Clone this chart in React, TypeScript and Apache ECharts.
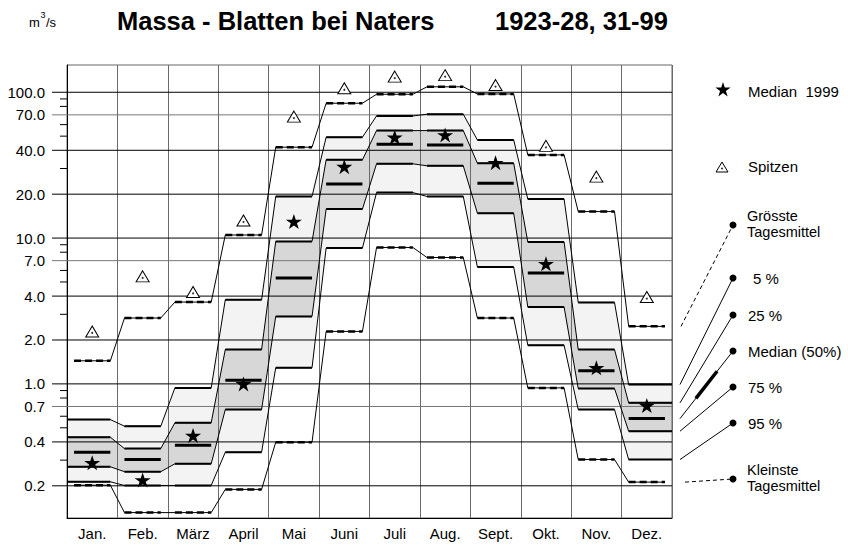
import React, { useEffect, useRef } from "react";
import * as echarts from "echarts";

const months = ["Jan.", "Feb.", "März", "April", "Mai", "Juni", "Juli", "Aug.", "Sept.", "Okt.", "Nov.", "Dez."];
const maxDaily = [1.44, 2.83, 3.64, 10.5, 42.0, 84.1, 96.9, 109, 97.3, 37.2, 15.2, 2.48];
const peaks = [2.29, 5.46, 4.27, 13.2, 68.1, 106.5, 128, 131, 112, 42.9, 26.4, 3.94];
const p5 = [0.569, 0.513, 0.939, 3.78, 19.3, 49.2, 68.8, 70.7, 47.1, 18.5, 3.62, 0.989];
const p25 = [0.431, 0.36, 0.541, 1.72, 9.48, 34.4, 54.6, 54.6, 32.6, 9.39, 1.72, 0.741];
const p50 = [0.34, 0.303, 0.38, 1.06, 5.32, 23.5, 44.0, 43.4, 23.8, 5.76, 1.23, 0.578];
const p75 = [0.27, 0.25, 0.283, 0.667, 2.9, 15.8, 32.3, 31.3, 14.8, 3.37, 0.929, 0.474];
const p95 = [0.213, 0.201, 0.201, 0.34, 1.29, 8.54, 20.5, 19.3, 6.33, 1.84, 0.667, 0.303];
const minDaily = [0.202, 0.131, 0.131, 0.189, 0.398, 2.29, 8.62, 7.36, 2.83, 0.939, 0.303, 0.212];
const median1999 = [0.288, 0.219, 0.442, 1.0, 13.0, 30.9, 49.2, 51.0, 32.9, 6.67, 1.29, 0.71];
const yTicks = [0.2, 0.4, 0.7, 1, 2, 4, 7, 10, 20, 40, 70, 100];
const yTickLabels = ["0.2", "0.4", "0.7", "1.0", "2.0", "4.0", "7.0", "10.0", "20.0", "40.0", "70.0", "100.0"];
const yMinorTicks = [0.3, 0.5, 0.6, 0.8, 0.9, 3, 5, 6, 8, 9, 30, 50, 60, 80, 90];

const FONT = "'Liberation Sans', Arial, Helvetica, sans-serif";
const HALF = 0.36;
const STAR =
  "path://M50 0 L61.23 34.55 L97.55 34.55 L68.17 55.9 L79.39 90.45 L50 69.1 L20.61 90.45 L31.83 55.9 L2.45 34.55 L38.77 34.55 Z";

function stepXY(vals: number[], extend: boolean): number[][] {
  const pts: number[][] = [];
  vals.forEach((v, i) => {
    const l = extend && i === 0 ? 0 : i + 0.5 - HALF;
    const r = extend && i === vals.length - 1 ? 12 : i + 0.5 + HALF;
    pts.push([l, v], [r, v]);
  });
  return pts;
}

function starPoints(cx: number, cy: number, R: number): number[][] {
  const pts: number[][] = [];
  for (let k = 0; k < 10; k++) {
    const a = (-90 + k * 36) * (Math.PI / 180);
    const r = k % 2 === 0 ? R : R * 0.382;
    pts.push([cx + r * Math.cos(a), cy + r * Math.sin(a)]);
  }
  return pts;
}

function stepLineSeries(vals: number[], extend: boolean, width: number, dashed: boolean, connectors: boolean) {
  return {
    type: "custom",
    xAxisIndex: 0,
    yAxisIndex: 0,
    z: 5,
    silent: true,
    data: [[0, vals[0]]],
    renderItem: (_p: any, api: any) => {
      const pts = stepXY(vals, extend).map((p) => api.coord(p));
      const children: any[] = [];
      if (connectors) {
        children.push({
          type: "polyline",
          shape: { points: pts },
          style: { stroke: "#000", lineWidth: 1, fill: "none" },
        });
      }
      for (let i = 0; i < vals.length; i++) {
        const a = pts[2 * i];
        const b = pts[2 * i + 1];
        children.push({
          type: "line",
          shape: { x1: a[0], y1: a[1], x2: b[0], y2: b[1] },
          style: { stroke: "#000", lineWidth: width, lineDash: dashed ? [7, 4] : null, fill: "none" },
        });
      }
      return { type: "group", children };
    },
  };
}

function bandSeries(upper: number[], lower: number[], color: string) {
  return {
    type: "custom",
    xAxisIndex: 0,
    yAxisIndex: 0,
    z: 1,
    silent: true,
    data: [[0, upper[0]]],
    renderItem: (_p: any, api: any) => {
      const up = stepXY(upper, true).map((p) => api.coord(p));
      const lo = stepXY(lower, true).map((p) => api.coord(p)).reverse();
      return { type: "polygon", shape: { points: up.concat(lo) }, style: { fill: color, stroke: "none" } };
    },
  };
}

const legendTargets = [
  { vals: maxDaily, dot: [733, 225], dash: true, dx: 9, thickMid: false },
  { vals: p5, dot: [733, 278], dash: false, dx: 8, thickMid: false },
  { vals: p25, dot: [733, 315], dash: false, dx: 8, thickMid: false },
  { vals: p50, dot: [733, 351], dash: false, dx: 8, thickMid: true },
  { vals: p75, dot: [733, 387], dash: false, dx: 8, thickMid: false },
  { vals: p95, dot: [733, 423], dash: false, dx: 8, thickMid: false },
  { vals: minDaily, dot: [733, 479], dash: true, dx: 13, thickMid: false },
];

function legendText(x: number, y: number, text: string, size = 15) {
  return { type: "text", x, y, z: 10, style: { text, fontSize: size, fontFamily: FONT, fill: "#000", verticalAlign: "middle" } };
}

export default function App() {
  const ref = useRef<HTMLDivElement>(null);
  useEffect(() => {
    if (!ref.current) return;
    const chart = echarts.init(ref.current, undefined, { renderer: "svg" });
    const option: any = {
      animation: false,
      textStyle: { fontFamily: FONT },
      grid: {
        left: 67,
        top: 65,
        right: 176,
        bottom: 31,
        show: true,
        z: 3,
        borderColor: "#666",
        borderWidth: 1,
        backgroundColor: "transparent",
      },
      xAxis: [
        { type: "value", min: 0, max: 12, show: false, position: "top" },
        {
          type: "category",
          data: months,
          position: "bottom",
          boundaryGap: true,
          z: 3,
          axisLine: { show: true, lineStyle: { color: "#000", width: 1 } },
          axisTick: { show: false },
          axisLabel: { color: "#000", fontSize: 15, margin: 8, fontFamily: FONT },
          splitLine: { show: true, lineStyle: { color: "#6a6a6a", width: 1 } },
        },
      ],
      yAxis: {
        type: "log",
        logBase: 10,
        min: 0.1203,
        max: 153.8,
        z: 3,
        axisLine: { show: true, lineStyle: { color: "#000", width: 1 } },
        axisTick: { show: false },
        axisLabel: { show: false },
        splitLine: { show: false },
      },
      series: [
        bandSeries(p5, p95, "#f3f3f3"),
        bandSeries(p25, p75, "#d7d7d7"),
        {
          type: "custom",
          xAxisIndex: 0,
          yAxisIndex: 0,
          z: 4,
          silent: true,
          data: yTicks.map((v) => [0, v]),
          renderItem: (params: any, api: any) => {
            const v = api.value(1);
            const p0 = api.coord([0, v]);
            const p1 = api.coord([12, v]);
            const lab = yTickLabels[params.dataIndex];
            const gray = lab.charAt(0) === "7" || lab.startsWith("0.7");
            return {
              type: "group",
              children: [
                {
                  type: "line",
                  shape: { x1: p0[0] - 15, y1: p0[1], x2: p1[0], y2: p1[1] },
                  style: { stroke: gray ? "#777" : "#000", lineWidth: 1 },
                },
                {
                  type: "text",
                  x: p0[0] - 22,
                  y: p0[1],
                  style: {
                    text: lab,
                    align: "right",
                    verticalAlign: "middle",
                    fontSize: 15,
                    fontFamily: FONT,
                    fill: "#000",
                  },
                },
              ],
            };
          },
        },
        {
          type: "custom",
          xAxisIndex: 0,
          yAxisIndex: 0,
          z: 4,
          silent: true,
          data: yMinorTicks.map((v) => [0, v]),
          renderItem: (_params: any, api: any) => {
            const p0 = api.coord([0, api.value(1)]);
            return {
              type: "line",
              shape: { x1: p0[0] - 7, y1: p0[1], x2: p0[0], y2: p0[1] },
              style: { stroke: "#000", lineWidth: 1 },
            };
          },
        },
        stepLineSeries(maxDaily, false, 2.5, true, true),
        stepLineSeries(minDaily, false, 2.5, true, true),
        stepLineSeries(p5, true, 2, false, true),
        stepLineSeries(p25, true, 2, false, true),
        stepLineSeries(p75, true, 2, false, true),
        stepLineSeries(p95, true, 2, false, true),
        stepLineSeries(p50, false, 3, false, false),
        {
          type: "custom",
          xAxisIndex: 0,
          yAxisIndex: 0,
          z: 5,
          silent: true,
          data: [[0, 1]],
          renderItem: (_p: any, api: any) => {
            const children: any[] = [];
            legendTargets.forEach((t) => {
              const e = api.coord([12, t.vals[t.vals.length - 1]]);
              const x1 = e[0] + t.dx;
              const y1 = e[1];
              const [x2, y2] = t.dot;
              children.push({
                type: "line",
                shape: { x1, y1, x2, y2 },
                style: { stroke: "#000", lineWidth: 1, lineDash: t.dash ? [4, 3] : null },
              });
              if (t.thickMid) {
                children.push({
                  type: "line",
                  shape: {
                    x1: x1 + (x2 - x1) * 0.3,
                    y1: y1 + (y2 - y1) * 0.3,
                    x2: x1 + (x2 - x1) * 0.7,
                    y2: y1 + (y2 - y1) * 0.7,
                  },
                  style: { stroke: "#000", lineWidth: 3.5 },
                });
              }
              children.push({
                type: "circle",
                shape: { cx: x2, cy: y2, r: 3.5 },
                style: { fill: "#000", stroke: "none" },
              });
            });
            return { type: "group", children };
          },
        },
        {
          type: "scatter",
          xAxisIndex: 0,
          yAxisIndex: 0,
          z: 6,
          silent: true,
          symbol: "triangle",
          symbolSize: [13, 11],
          itemStyle: { color: "#fff", borderColor: "#000", borderWidth: 1, opacity: 1 },
          data: peaks.map((v, i) => [i + 0.5, v]),
        },
        {
          type: "scatter",
          xAxisIndex: 0,
          yAxisIndex: 0,
          z: 7,
          silent: true,
          symbol: "circle",
          symbolSize: 2,
          itemStyle: { color: "#000" },
          data: peaks.map((v, i) => [i + 0.5, v]),
          symbolOffset: [0, 1.5],
        },
        {
          type: "scatter",
          xAxisIndex: 0,
          yAxisIndex: 0,
          z: 7,
          silent: true,
          symbol: STAR,
          symbolSize: [16, 15],
          itemStyle: { color: "#000", opacity: 1 },
          data: median1999.map((v, i) => [i + 0.5, v]),
        },
      ],
      graphic: [
        { type: "text", x: 29, y: 22, style: { text: "m", fontSize: 13, fontFamily: FONT, fill: "#000", verticalAlign: "middle" } },
        { type: "text", x: 40.5, y: 15, style: { text: "3", fontSize: 9, fontFamily: FONT, fill: "#000", verticalAlign: "middle" } },
        { type: "text", x: 46, y: 22, style: { text: "/s", fontSize: 13, fontFamily: FONT, fill: "#000", verticalAlign: "middle" } },
        {
          type: "text",
          x: 117,
          y: 21,
          style: { text: "Massa - Blatten bei Naters", fontSize: 25.5, fontWeight: "bold", fontFamily: FONT, fill: "#000", verticalAlign: "middle" },
        },
        {
          type: "text",
          x: 495,
          y: 21,
          style: { text: "1923-28, 31-99", fontSize: 25.5, fontWeight: "bold", fontFamily: FONT, fill: "#000", verticalAlign: "middle" },
        },
        { type: "polygon", z: 10, shape: { points: starPoints(723, 90, 8) }, style: { fill: "#000" } },
        legendText(748, 91, "Median  1999"),
        {
          type: "polygon",
          z: 10,
          shape: { points: [[722, 162], [728, 172], [716, 172]] },
          style: { fill: "#fff", stroke: "#000", lineWidth: 1 },
        },
        { type: "circle", z: 11, shape: { cx: 722, cy: 168.5, r: 0.8 }, style: { fill: "#000" } },
        legendText(748, 166, "Spitzen"),
        legendText(747, 216, "Grösste", 14.5),
        legendText(747, 232, "Tagesmittel", 14.5),
        legendText(753, 278, "5 %"),
        legendText(748, 315, "25 %"),
        legendText(748, 351, "Median (50%)"),
        legendText(748, 387, "75 %"),
        legendText(748, 423, "95 %"),
        legendText(747, 470, "Kleinste", 14.5),
        legendText(747, 486, "Tagesmittel", 14.5),
      ],
    };
    chart.setOption(option);
    return () => chart.dispose();
  }, []);
  return <div ref={ref} style={{ position: "absolute", left: 0, top: 0, width: 848, height: 549, background: "#fff" }} />;
}
